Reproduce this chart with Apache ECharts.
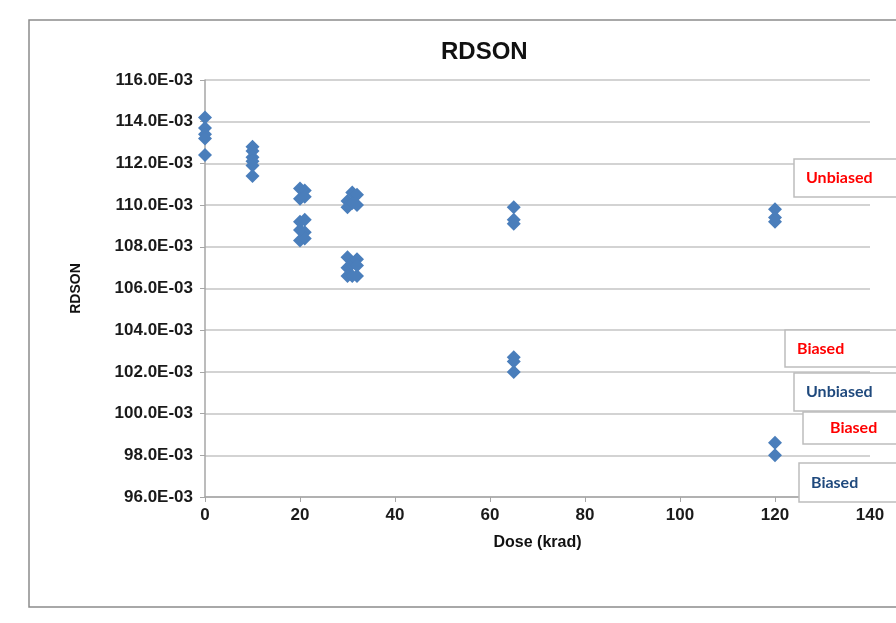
<!DOCTYPE html>
<html>
<head>
<meta charset="utf-8">
<script src="https://cdn.jsdelivr.net/npm/echarts@6/dist/echarts.min.js"></script>
<style>
  html, body { margin: 0; padding: 0; background: #fff; }
  #main { width: 896px; height: 623px; }
</style>
</head>
<body>
<div id="main"></div>
<script>
// dose (krad) for each measured part
var doseKrad = [
  0, 0, 0, 0, 0,
  10, 10, 10, 10, 10, 10,
  20, 20, 20, 20, 20,
  21, 21, 21, 21, 21,
  30, 30, 30, 30, 30,
  31, 31, 31, 31,
  32, 32, 32, 32, 32,
  65, 65, 65, 65, 65, 65,
  120, 120, 120, 120, 120
];
// RDSON in E-03 (milliohm)
var rdsonMilli = [
  114.2, 113.7, 113.4, 113.2, 112.4,
  112.8, 112.6, 112.3, 112.1, 111.9, 111.4,
  110.8, 110.3, 109.2, 108.8, 108.3,
  110.7, 110.4, 109.3, 108.7, 108.4,
  110.2, 109.9, 107.5, 107.0, 106.6,
  110.6, 110.1, 107.2, 106.6,
  110.5, 110.0, 107.4, 107.1, 106.6,
  109.9, 109.3, 109.1, 102.7, 102.5, 102.0,
  109.8, 109.4, 109.2, 98.6, 98.0
];
// text boxes on the right side
var noteTexts = ['Unbiased', 'Biased', 'Unbiased', 'Biased', 'Biased'];
var noteColors = ['#ff0000', '#ff0000', '#1f497d', '#ff0000', '#1f497d'];

var points = [];
for (var i = 0; i < doseKrad.length; i++) {
  points.push([doseKrad[i], rdsonMilli[i]]);
}

// box placement (px) for the notes
var noteBoxes = [
  { x: 794, y: 159, h: 38, tx: 806 },
  { x: 785, y: 330, h: 37, tx: 797 },
  { x: 794, y: 373, h: 38, tx: 806 },
  { x: 803, y: 412, h: 32, tx: 830 },
  { x: 799, y: 463, h: 39, tx: 811 }
];
var graphics = [{
  type: 'rect',
  shape: { x: 29, y: 20, width: 900, height: 587 },
  style: { fill: 'none', stroke: '#8c8c8c', lineWidth: 1.5 },
  z: 1
}];
noteBoxes.forEach(function (b, k) {
  graphics.push({
    type: 'rect',
    shape: { x: b.x, y: b.y, width: 140, height: b.h },
    style: { fill: '#fff', stroke: '#bdbdbd', lineWidth: 1.5 },
    z: 100
  });
  graphics.push({
    type: 'text',
    x: b.tx,
    y: b.y + b.h / 2,
    style: {
      text: noteTexts[k],
      fill: noteColors[k],
      font: 'bold 16px Lato',
      textVerticalAlign: 'middle'
    },
    z: 101
  });
});

var chart = echarts.init(document.getElementById('main'));
var axisFont = { fontFamily: 'Liberation Sans', fontWeight: 'bold', fontSize: 17, color: '#1a1a1a' };

chart.setOption({
  animation: false,
  title: {
    text: 'RDSON',
    left: 436,
    top: 35,
    textStyle: { fontFamily: 'Liberation Sans', fontWeight: 'bold', fontSize: 24, color: '#111' }
  },
  grid: { left: 205, right: 26, top: 80, bottom: 126 },
  xAxis: {
    type: 'value',
    min: 0,
    max: 140,
    interval: 20,
    name: 'Dose (krad)',
    nameLocation: 'middle',
    nameGap: 38,
    nameTextStyle: { fontFamily: 'Liberation Sans', fontWeight: 'bold', fontSize: 16, color: '#111' },
    axisLine: { lineStyle: { color: '#a6a6a6', width: 1.5 } },
    axisTick: { show: true, length: 5, lineStyle: { color: '#a6a6a6' } },
    axisLabel: Object.assign({ margin: 10 }, axisFont),
    splitLine: { show: false }
  },
  yAxis: {
    type: 'value',
    min: 96,
    max: 116,
    interval: 2,
    name: 'RDSON',
    nameLocation: 'middle',
    nameGap: 122,
    nameTextStyle: { fontFamily: 'Liberation Sans', fontWeight: 'bold', fontSize: 14, color: '#111' },
    axisLine: { show: true, lineStyle: { color: '#a6a6a6', width: 1.5 } },
    axisTick: { show: true, length: 5, lineStyle: { color: '#a6a6a6' } },
    axisLabel: Object.assign({
      margin: 12,
      formatter: function (v) { return v.toFixed(1) + 'E-03'; }
    }, axisFont),
    splitLine: { lineStyle: { color: '#c4c4c4', width: 1.5 } }
  },
  series: [{
    type: 'scatter',
    data: points,
    symbol: 'diamond',
    symbolSize: 14,
    itemStyle: { color: '#4a7ebb', opacity: 1 },
    z: 5
  }],
  graphic: graphics
});
</script>
</body>
</html>
